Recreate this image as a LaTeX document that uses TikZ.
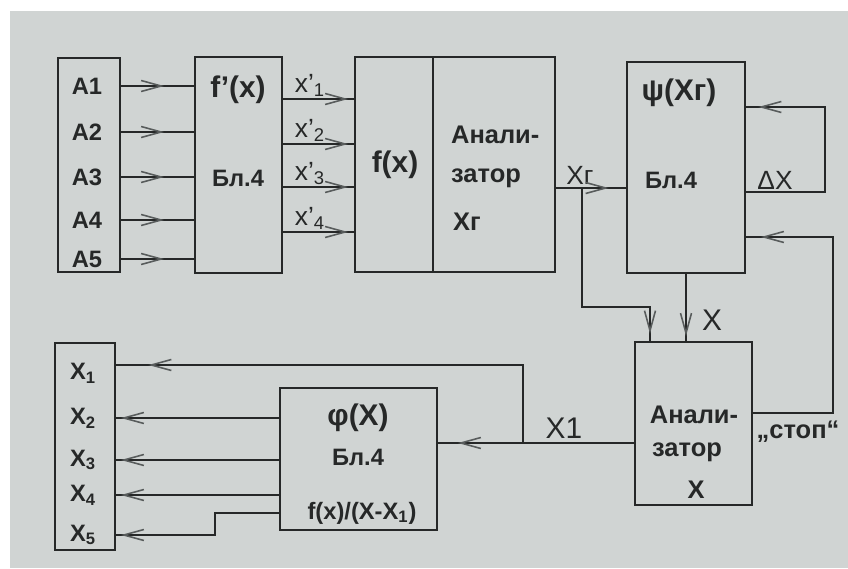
\documentclass[tikz,border=0pt]{standalone}
\usepackage{fontspec}
\setmainfont{Liberation Sans}
\usetikzlibrary{arrows.meta, decorations.markings}
\definecolor{paper}{RGB}{208,212,211}
\definecolor{ink}{RGB}{38,40,40}
\definecolor{tipgray}{RGB}{88,92,92}

\begin{document}
\begin{tikzpicture}[
    x=0.02cm, y=-0.02cm,
    blk/.style={rectangle, draw=ink, line width=1pt, inner sep=0pt},
    lbl/.style={font=\bfseries\fontsize{13.5}{15}\selectfont, text=ink, inner sep=1pt},
    big/.style={font=\bfseries\fontsize{17}{19}\selectfont, text=ink, inner sep=1pt},
    anl/.style={font=\bfseries\fontsize{14.5}{16}\selectfont, text=ink, inner sep=1pt},
    sig/.style={font=\fontsize{15}{17}\selectfont, text=ink, inner sep=1pt},
    wire/.style={draw=ink, line width=0.9pt},
    arrowat/.style={postaction={decorate}, decoration={markings, mark=at position #1 with {\arrow[tipgray, line width=0.9pt]{Straight Barb[length=4mm, width=2.2mm]}}}}
]

% paper
\useasboundingbox (0,0) rectangle (848,568);
\fill[white] (0,0) rectangle (848,568);
\fill[paper] (10,11) rectangle (848,568);

% blocks
\node[blk, minimum width=1.24cm, minimum height=4.28cm] (ablk) at (89,165) {};
\node[blk, minimum width=1.74cm, minimum height=4.32cm] (fpr) at (238.5,165) {};
\node[blk, minimum width=1.56cm, minimum height=4.30cm] (fxb) at (394,164.5) {};
\node[blk, minimum width=2.44cm, minimum height=4.30cm] (anr) at (494,164.5) {};
\node[blk, minimum width=2.36cm, minimum height=4.22cm] (psi) at (686,167.5) {};
\node[blk, minimum width=2.34cm, minimum height=3.26cm] (anx) at (693.5,423.5) {};
\node[blk, minimum width=3.14cm, minimum height=2.84cm] (phi) at (358.5,459) {};
\node[blk, minimum width=1.20cm, minimum height=4.14cm] (xblk) at (85,446.5) {};

% texts in blocks
\foreach \i/\y in {1/86,2/132,3/177,4/220,5/259}
    \node[lbl] (a\i) at (87,\y) {A\i};
\node[big] (fprt) at (238,90) {f'(x)};
\node[lbl] (fprb) at (238,178) {Бл.4};
\node[big] (fxt) at (395,165) {f(x)};
\node[anl, anchor=west] (anr1) at (449,135) {Анали-};
\node[anl, anchor=west] (anr2) at (449,178) {затор};
\node[anl, anchor=west] (anr3) at (451,222) {Хг};
\node[big] (psit) at (679,93) {ψ(Хг)};
\node[lbl] (psib) at (671,180) {Бл.4};
\node[anl] (anx1) at (694,415) {Анали-};
\node[anl] (anx2) at (687,452) {затор};
\node[anl] (anx3) at (696,490) {Х};
\node[big] (phit) at (358,418) {φ(X)};
\node[lbl] (phib) at (358,457) {Бл.4};
\node[lbl] (phif) at (362,513) {f(x)/(X-X\textsubscript{1})};
\foreach \i/\y in {1/373,2/418,3/460,4/495,5/535}
    \node[lbl] (xo\i) at (83,\y) {X\textsubscript{\i}};

% A -> f'(x)
\foreach \i in {1,...,5}
    \draw[wire, arrowat=-0.6cm] (ablk.east |- a\i) -- (fpr.west |- a\i);

% x' -> f(x)
\foreach \i/\y in {1/99,2/144,3/187,4/232}
    \node[sig, anchor=south] (xp\i) at (310,\y) {x'\textsubscript{\i}};
\foreach \i in {1,...,4}
    \draw[wire, arrowat=-0.12cm] (fpr.east |- xp\i.south) -- (fxb.west |- xp\i.south);

% Xr
\coordinate (xr) at (582,188);
\coordinate (xrb) at (650,307);
\node[sig, anchor=south] (xrl) at (580,187) {Хг};
\draw[wire, arrowat=-0.35cm] (anr.east |- xr) -- (psi.west |- xr);
\draw[wire, arrowat=-0.15cm] (xr) |- (xrb) -- (xrb |- anx.north);

% X
\node[sig, font=\fontsize{17}{19}\selectfont] (xlab) at (712,320) {X};
\draw[wire, arrowat=-0.1cm] (psi.south) -- (psi.south |- anx.north);

% delta X loop
\coordinate (dxa) at (825,192);
\coordinate (dxb) at (825,107);
\node[sig] (dxl) at (775,180) {ΔX};
\draw[wire, arrowat=-0.25cm] (psi.east |- dxa) -- (dxa) -- (dxb) -- (psi.east |- dxb);

% stop loop
\coordinate (sta) at (833,413);
\coordinate (stb) at (833,237);
\node[anl] (stl) at (798,432) {„стоп“};
\draw[wire, arrowat=-0.3cm] (anx.east |- sta) -- (sta) -- (stb) -- (psi.east |- stb);

% X1
\coordinate (xj) at (523,443);
\coordinate (x1t) at (523,365);
\node[sig, font=\fontsize{17}{19}\selectfont] (x1l) at (564,428) {Х1};
\draw[wire, arrowat=-0.4cm] (anx.west |- xj) -- (phi.east |- xj);
\draw[wire, arrowat=-0.65cm] (xj) -- (x1t) -- (xblk.east |- x1t);

% phi -> X
\foreach \i in {2,3,4}
    \draw[wire, arrowat=-0.1cm] (phi.west |- xo\i) -- (xblk.east |- xo\i);
\coordinate (kk) at (215,513);
\draw[wire, arrowat=-0.1cm] (phi.west |- kk) -- (kk) |- (xblk.east |- xo5);

\end{tikzpicture}
\end{document}
